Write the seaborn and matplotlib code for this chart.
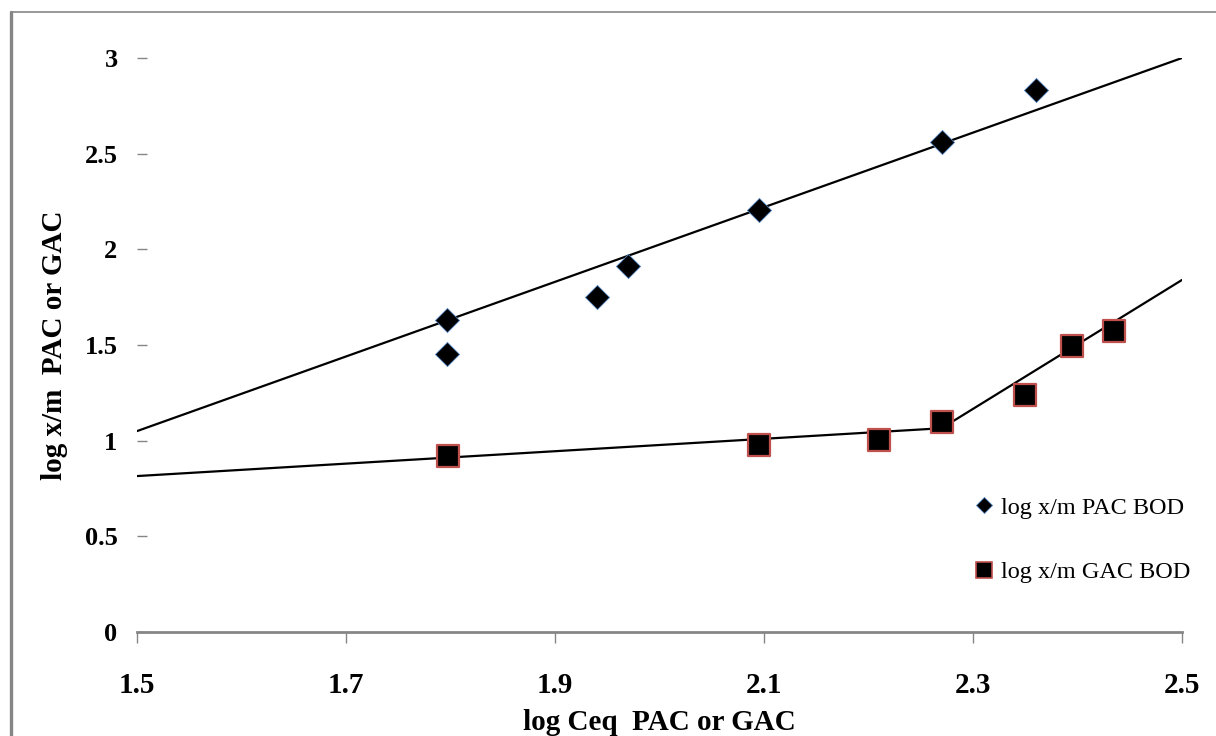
import matplotlib
matplotlib.use("Agg")
import matplotlib.pyplot as plt
from matplotlib.lines import Line2D
import seaborn as sns
import pandas as pd

# ---- data ----
pac_x = [1.797, 1.797, 1.94, 1.97, 2.095, 2.27, 2.36]
pac_y = [1.63, 1.455, 1.75, 1.915, 2.205, 2.56, 2.835]
gac_x = [1.798, 2.095, 2.21, 2.27, 2.35, 2.395, 2.435]
gac_y = [0.92, 0.975, 1.005, 1.10, 1.24, 1.495, 1.575]

pac_fit_x = [1.5, 2.5]
pac_fit_y = [1.05, 3.0]
gac_fit1_x = [1.5, 2.27]
gac_fit1_y = [0.815, 1.065]
gac_fit2_x = [2.27, 2.5]
gac_fit2_y = [1.065, 1.84]

x_ticks = [1.5, 1.7, 1.9, 2.1, 2.3, 2.5]
x_ticklabels = ["1.5", "1.7", "1.9", "2.1", "2.3", "2.5"]
y_ticks = [0, 0.5, 1, 1.5, 2, 2.5, 3]
y_ticklabels = ["0", "0.5", "1", "1.5", "2", "2.5", "3"]

pac_label = "log x/m PAC BOD"
gac_label = "log x/m GAC BOD"
x_title = "log Ceq  PAC or GAC"
y_title = "log x/m  PAC or GAC"

sns.set_theme(style="white")
plt.rcParams["font.family"] = ["Liberation Serif", "DejaVu Serif"]
plt.rcParams["text.color"] = "black"
plt.rcParams["axes.labelcolor"] = "black"
plt.rcParams["xtick.labelcolor"] = "black"
plt.rcParams["ytick.labelcolor"] = "black"

fig = plt.figure(figsize=(12.16, 7.36), dpi=100)
ax = fig.add_axes([137 / 1216, (736 - 632) / 736, (1182 - 137) / 1216, (632 - 58) / 736])

grey = "#868686"

# fit lines
for fx, fy in [(pac_fit_x, pac_fit_y), (gac_fit1_x, gac_fit1_y), (gac_fit2_x, gac_fit2_y)]:
    sns.lineplot(x=fx, y=fy, ax=ax, color="black", linewidth=1.6,
                 estimator=None, sort=False, legend=False)

# scatter markers
sns.scatterplot(x=pac_x, y=pac_y, ax=ax, marker="D", s=150, color="black",
                edgecolor="#4F81BD", linewidth=0.6, zorder=5, legend=False)
sns.scatterplot(x=gac_x, y=gac_y, ax=ax, marker="s", s=230, color="black",
                edgecolor="#C0504D", linewidth=1.6, zorder=5, legend=False)

ax.set_xlim(1.5, 2.5)
ax.set_ylim(0, 3)
ax.set_xticks(x_ticks)
ax.set_xticklabels(x_ticklabels, fontsize=21, fontweight="bold", color="black")
ax.set_yticks(y_ticks)
ax.set_yticklabels(y_ticklabels, fontsize=19, fontweight="bold", color="black")

for s in ["top", "right", "left"]:
    ax.spines[s].set_visible(False)
ax.spines["bottom"].set_color(grey)
ax.spines["bottom"].set_linewidth(2)

ax.tick_params(axis="x", direction="out", length=8, width=1, color=grey, pad=21,
               bottom=True)
ax.tick_params(axis="y", direction="in", length=7, width=1, color=grey, pad=14,
               left=True)

ax.set_xlabel(x_title, fontsize=21, fontweight="bold", labelpad=7, color="black")
ax.set_ylabel(y_title, fontsize=21, fontweight="bold", labelpad=12, color="black")

# legend
handles = [
    Line2D([], [], linestyle="none", marker="D", markersize=8, markerfacecolor="black",
           markeredgecolor="#4F81BD", markeredgewidth=0.6, label=pac_label),
    Line2D([], [], linestyle="none", marker="s", markersize=11, markerfacecolor="black",
           markeredgecolor="#C0504D", markeredgewidth=1.2, label=gac_label),
]
leg = fig.legend(handles=handles, loc="upper left", bbox_to_anchor=(965 / 1216, 1 - 487 / 736),
                 frameon=False, fontsize=17.5, labelspacing=1.75, handlelength=0.8,
                 handletextpad=0.3, borderaxespad=0)
for t in leg.get_texts():
    t.set_color("black")

# outer chart border (left and top visible)
fig.add_artist(Line2D([11 / 1216, 11 / 1216], [0, 1 - 12 / 736], transform=fig.transFigure,
                      color=grey, linewidth=2.4))
fig.add_artist(Line2D([11 / 1216, 1], [1 - 12 / 736, 1 - 12 / 736], transform=fig.transFigure,
                      color=grey, linewidth=1.2))

fig.savefig("out.png", dpi=100, facecolor="white")
